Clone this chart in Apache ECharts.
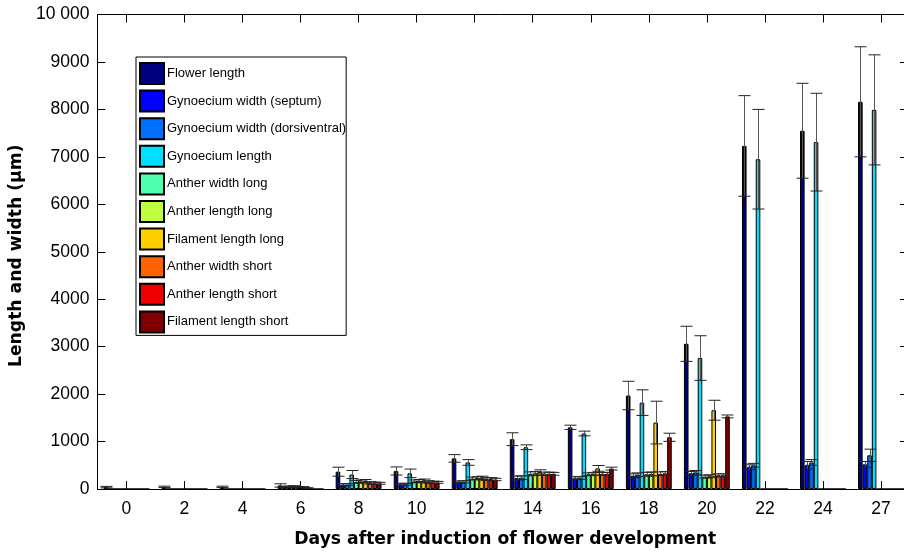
<!DOCTYPE html>
<html>
<head>
<meta charset="utf-8">
<script src="https://cdn.jsdelivr.net/npm/echarts@6/dist/echarts.min.js"></script>
<style>
html,body{margin:0;padding:0;background:#fff;overflow:hidden;}
#c{width:904px;height:553px;}
</style>
</head>
<body>
<div id="c"></div>
<script>
const days = ['0','2','4','6','8','10','12','14','16','18','20','22','24','27'];
const yTicks = [0,1000,2000,3000,4000,5000,6000,7000,8000,9000,10000];

const seriesNames = ['Flower length','Gynoecium width (septum)','Gynoecium width (dorsiventral)','Gynoecium length','Anther width long','Anther length long','Filament length long','Anther width short','Anther length short','Filament length short'];
const seriesColors = ['#00007f','#0000ff','#0070ff','#00dfff','#50ffb0','#c0ff40','#ffcf00','#ff6000','#ef0000','#7f0000'];

const flowerLength      = [40, 45, 45, 75, 365, 380, 645, 1050, 1300, 1970, 3060, 7230, 7550, 8160];
const flowerLengthSd    = [15, 15, 15, 35, 95, 85, 80, 135, 45, 300, 370, 1060, 1000, 1160];
const gynWidthSeptum    = [0, 0, 0, 50, 90, 100, 147, 230, 225, 280, 330, 460, 500, 520];
const gynWidthSeptumSd  = [0, 0, 0, 10, 20, 20, 20, 40, 30, 40, 40, 50, 80, 60];
const gynWidthDorsi     = [0, 0, 0, 50, 90, 100, 150, 240, 235, 300, 350, 500, 560, 710];
const gynWidthDorsiSd   = [0, 0, 0, 10, 20, 20, 25, 40, 30, 40, 40, 40, 60, 130];
const gynLength         = [0, 0, 0, 55, 305, 330, 560, 880, 1170, 1820, 2760, 6950, 7310, 7990];
const gynLengthSd       = [0, 0, 0, 15, 85, 90, 60, 50, 50, 270, 470, 1050, 1030, 1160];
const antherWidthLong   = [0, 0, 0, 40, 150, 160, 220, 320, 310, 310, 260, 0, 0, 0];
const antherWidthLongSd = [0, 0, 0, 10, 30, 30, 30, 40, 30, 40, 30, 0, 0, 0];
const antherLengthLong  = [0, 0, 0, 40, 160, 170, 230, 330, 320, 320, 270, 0, 0, 0];
const antherLengthLongSd= [0, 0, 0, 10, 30, 30, 30, 40, 30, 40, 30, 0, 0, 0];
const filamentLong      = [0, 0, 0, 20, 170, 180, 240, 360, 435, 1400, 1660, 0, 0, 0];
const filamentLongSd    = [0, 0, 0, 5, 30, 30, 30, 45, 60, 450, 210, 0, 0, 0];
const antherWidthShort  = [0, 0, 0, 0, 130, 150, 210, 320, 320, 320, 290, 0, 0, 0];
const antherWidthShortSd= [0, 0, 0, 0, 25, 25, 30, 35, 30, 40, 30, 0, 0, 0];
const antherLengthShort = [0, 0, 0, 0, 120, 140, 210, 320, 320, 330, 290, 0, 0, 0];
const antherLengthShortSd=[0, 0, 0, 0, 25, 25, 30, 35, 30, 40, 30, 0, 0, 0];
const filamentShort     = [0, 0, 0, 0, 120, 140, 200, 320, 430, 1090, 1530, 0, 0, 0];
const filamentShortSd   = [0, 0, 0, 0, 20, 20, 25, 30, 30, 85, 30, 0, 0, 0];

const means = [flowerLength, gynWidthSeptum, gynWidthDorsi, gynLength, antherWidthLong, antherLengthLong, filamentLong, antherWidthShort, antherLengthShort, filamentShort];
const sds = [flowerLengthSd, gynWidthSeptumSd, gynWidthDorsiSd, gynLengthSd, antherWidthLongSd, antherLengthLongSd, filamentLongSd, antherWidthShortSd, antherLengthShortSd, filamentShortSd];

const NS = means.length;
const CAT_GAP = 0.21;
const catIdx = days.map((d, k) => k);

// layout: axis box continues past the right edge of the picture
const GRID_LEFT = 95.5, GRID_RIGHT_PX = 904, BAND_PX = 58.18;
const X_MIN = -0.5;
const X_MAX = X_MIN + (GRID_RIGHT_PX - GRID_LEFT) / BAND_PX;

const barSeries = means.map((arr, i) => ({
  name: seriesNames[i],
  type: 'bar',
  data: arr.map((v, k) => [k, v]),
  barGap: '0%',
  barCategoryGap: (CAT_GAP*100) + '%',
  itemStyle: { color: seriesColors[i], borderColor: '#000', borderWidth: 1 },
  emphasis: { disabled: true },
  animation: false,
  z: 2
}));

const errData = [];
means.forEach((arr, i) => {
  arr.forEach((v, k) => {
    if (v > 0 && sds[i][k] > 0) errData.push([k, v, sds[i][k], i]);
  });
});

const errSeries = {
  type: 'custom',
  data: errData,
  z: 5,
  animation: false,
  silent: true,
  renderItem: function (params, api) {
    const k = api.value(0), m = api.value(1), s = api.value(2), i = api.value(3);
    const band = api.size([1, 0])[0];
    const bw = band * (1 - CAT_GAP) / NS;
    const c = api.coord([k, m]);
    const x = Math.round(c[0] + (i - (NS - 1) / 2) * bw) + 0.5;
    const yt = api.coord([k, m + s])[1];
    const yb = api.coord([k, Math.max(m - s, 0)])[1];
    const hw = 6;
    const st = { stroke: '#222', lineWidth: 1 };
    return {
      type: 'group',
      children: [
        { type: 'line', shape: { x1: x, y1: yt, x2: x, y2: yb }, style: { stroke: '#555', lineWidth: 1 } },
        { type: 'line', shape: { x1: x - hw, y1: yt, x2: x + hw, y2: yt }, style: st },
        { type: 'line', shape: { x1: x - hw, y1: yb, x2: x + hw, y2: yb }, style: st }
      ]
    };
  }
};

const chart = echarts.init(document.getElementById('c'), null, { renderer: 'canvas' });
const FONT = 'Liberation Sans, Arial, Helvetica, sans-serif';
const TITLE_FONT = 'DejaVu Sans, Verdana, sans-serif';
chart.setOption({
  backgroundColor: '#fff',
  animation: false,
  textStyle: { fontFamily: FONT },
  grid: { left: GRID_LEFT, top: 14.5, right: 0, height: 475.5, containLabel: false },
  legend: {
    orient: 'vertical',
    left: 136, top: 57,
    padding: [5, 0, 2, 3],
    itemWidth: 24, itemHeight: 21, itemGap: 4.6,
    borderColor: '#000', borderWidth: 1, backgroundColor: '#fff',
    borderRadius: 0,
    selectedMode: false,
    icon: 'rect',
    textStyle: { fontSize: 13, color: '#000', fontFamily: FONT, padding: [0, 0, 0, -2] },
    data: seriesNames
  },
  xAxis: [
    {
      type: 'value', min: X_MIN, max: X_MAX, position: 'bottom',
      splitLine: { show: false },
      axisLine: { show: true, onZero: false, lineStyle: { color: '#000', width: 1 } },
      axisTick: { show: true, inside: true, length: 8, customValues: catIdx, lineStyle: { color: '#000' } },
      axisLabel: { fontSize: 17.5, color: '#000', margin: 11, customValues: catIdx,
        formatter: v => days[Math.round(v)] },
      name: 'Days after induction of flower development',
      nameLocation: 'middle', nameGap: 42,
      nameTextStyle: { fontSize: 17.2, fontWeight: 'bold', color: '#000', fontFamily: TITLE_FONT, padding: [0, 0, 0, 9] }
    },
    {
      type: 'value', min: X_MIN, max: X_MAX, position: 'top',
      splitLine: { show: false },
      axisLine: { show: true, onZero: false, lineStyle: { color: '#000', width: 1 } },
      axisTick: { show: true, inside: true, length: 8, customValues: catIdx, lineStyle: { color: '#000' } },
      axisLabel: { show: false }
    }
  ],
  yAxis: [
    {
      type: 'value', min: 0, max: 10000, interval: 1000, position: 'left',
      axisLine: { show: true, onZero: false, lineStyle: { color: '#000', width: 1 } },
      axisTick: { show: true, inside: true, length: 8, lineStyle: { color: '#000' } },
      splitLine: { show: false },
      axisLabel: { fontSize: 17.5, color: '#000', margin: 8,
        formatter: v => (v === 10000 ? '10 000' : String(v)) },
      name: 'Length and width (\u00b5m)',
      nameLocation: 'middle', nameGap: 60,
      nameTextStyle: { fontSize: 17.2, fontWeight: 'bold', color: '#000', fontFamily: TITLE_FONT, padding: [0, 8, 0, 0] }
    },
    {
      type: 'value', min: 0, max: 10000, interval: 1000, position: 'right',
      axisLine: { show: false, onZero: false },
      axisTick: { show: true, inside: true, length: 4, lineStyle: { color: '#000' } },
      splitLine: { show: false },
      axisLabel: { show: false }
    }
  ],
  series: barSeries.concat([errSeries])
});
</script>
</body>
</html>
